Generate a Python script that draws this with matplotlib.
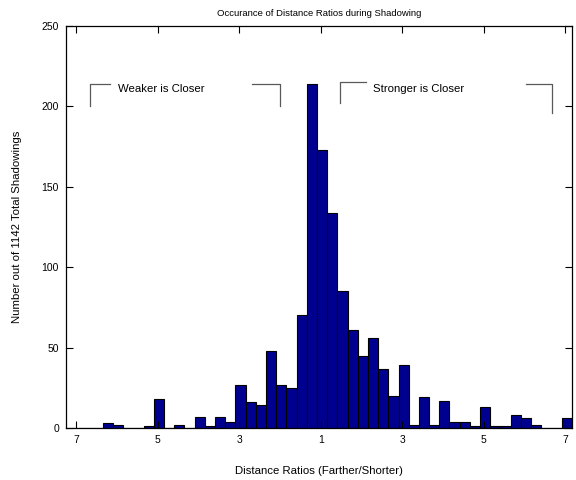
import matplotlib
matplotlib.use("Agg")
import matplotlib.pyplot as plt
import numpy as np

plt.rcParams['font.family'] = ['Liberation Sans', 'DejaVu Sans']

# bin index (bin width 0.25 in signed "ratio-1" units) and counts
bin_index = list(range(-24, 25))
counts = [0, 0, 0, 3, 2, 0, 0, 1, 18, 0, 2, 0, 7, 1, 7, 4, 27, 16, 14, 48, 27, 25, 70,
          214, 173, 134, 85, 61, 45, 56, 37, 20, 39, 2, 19, 2, 17, 4, 4, 1, 13, 1, 1,
          8, 6, 2, 0, 0, 6]
bin_width = 0.25
bin_offset = 0.03

tick_pos = [-6, -4, -2, 0, 2, 4, 6]
tick_labels = ["7", "5", "3", "1", "3", "5", "7"]
y_ticks = [0, 50, 100, 150, 200, 250]

title = "Occurance of Distance Ratios during Shadowing"
xlabel = "Distance Ratios (Farther/Shorter)"
ylabel = "Number out of 1142 Total Shadowings"

fig = plt.figure(figsize=(5.76, 4.8), dpi=100)
ax = fig.add_axes([66/576, 52/480, (572-66)/576, (428-26)/480])

centers = np.array(bin_index) * bin_width + bin_offset
ax.bar(centers, counts, width=bin_width, color='#000090', edgecolor='black',
       linewidth=0.8, align='center')

ax.set_xlim(-6.25, 6.16)
ax.set_ylim(0, 250)
ax.set_xticks(tick_pos)
ax.set_xticklabels(tick_labels)
ax.set_yticks(y_ticks)
ax.tick_params(direction='in', top=True, right=True, length=5, width=0.8,
               labelsize=7.5, pad=5)
for s in ax.spines.values():
    s.set_linewidth(0.9)

ax.set_title(title, fontsize=6.8, pad=7)
ax.set_xlabel(xlabel, fontsize=8.2, labelpad=15)
ax.set_ylabel(ylabel, fontsize=8.2, labelpad=14)

# bracket annotations
gray = '0.35'
ax.plot([-5.65, -5.65, -5.18], [200.5, 214, 214], color=gray, lw=0.9)
ax.plot([-1.69, -1.0, -1.0], [214, 214, 200.5], color=gray, lw=0.9)
ax.text(-4.97, 211, "Weaker is Closer", fontsize=8.2, va='center', ha='left')
ax.plot([0.47, 0.47, 1.10], [202, 215, 215], color=gray, lw=0.9)
ax.plot([5.03, 5.66, 5.66], [214, 214, 196], color=gray, lw=0.9)
ax.text(1.28, 211, "Stronger is Closer", fontsize=8.2, va='center', ha='left')

fig.savefig("out.png", dpi=100)
